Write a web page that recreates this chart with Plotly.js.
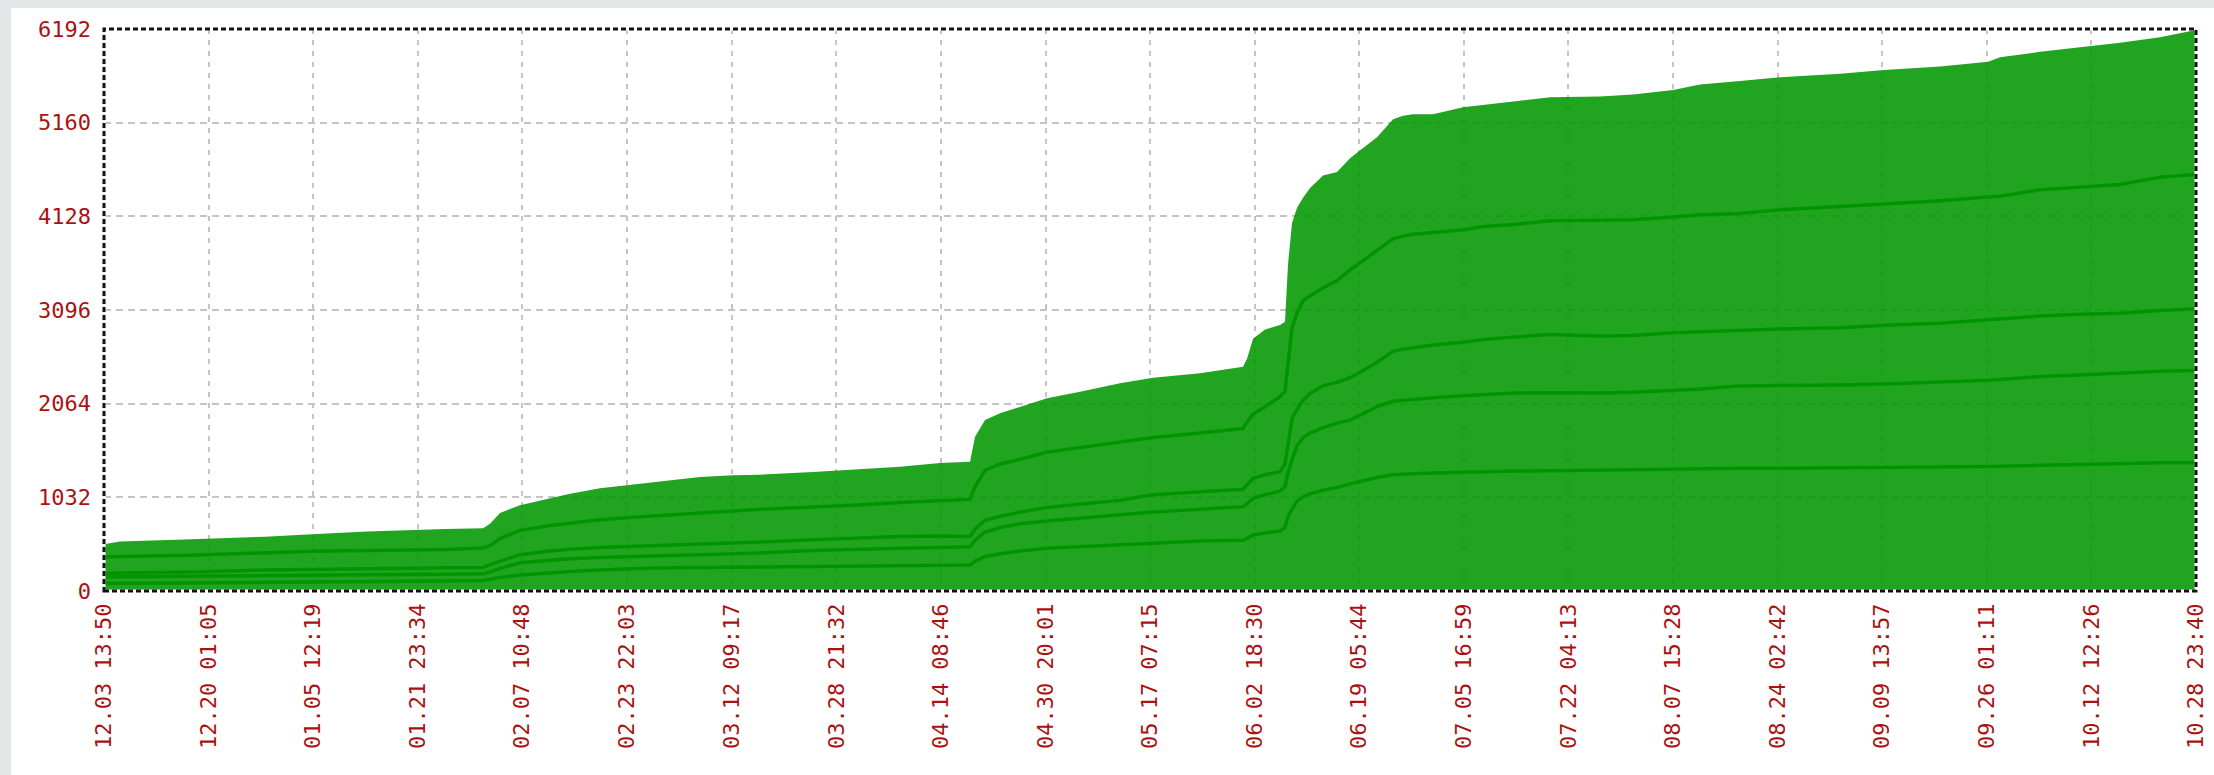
<!DOCTYPE html>
<html>
<head>
<meta charset="utf-8">
<script src="https://cdn.plot.ly/plotly-3.0.1.min.js"></script>
<style>
  html, body { margin: 0; padding: 0; }
  body { width: 2214px; height: 775px; background: #e3e7e8; position: relative; overflow: hidden; }
  #card { position: absolute; left: 11px; top: 8px; right: 0; bottom: 0; background: #ffffff; }
  #chart { position: absolute; left: 0; top: 0; width: 2214px; height: 775px; }
</style>
</head>
<body>
<div id="card"></div>
<div id="chart"></div>
<script>
// ---- tick labels (x) ----
const tickLabels = ["12.03 13:50","12.20 01:05","01.05 12:19","01.21 23:34","02.07 10:48","02.23 22:03",
  "03.12 09:17","03.28 21:32","04.14 08:46","04.30 20:01","05.17 07:15","06.02 18:30","06.19 05:44",
  "07.05 16:59","07.22 04:13","08.07 15:28","08.24 02:42","09.09 13:57","09.26 01:11","10.12 12:26","10.28 23:40"];
const tickDates = ["2012-12-03 13:50","2012-12-20 01:05","2013-01-05 12:19","2013-01-21 23:34","2013-02-07 10:48",
  "2013-02-23 22:03","2013-03-12 09:17","2013-03-28 21:32","2013-04-14 08:46","2013-04-30 20:01","2013-05-17 07:15",
  "2013-06-02 18:30","2013-06-19 05:44","2013-07-05 16:59","2013-07-22 04:13","2013-08-07 15:28","2013-08-24 02:42",
  "2013-09-09 13:57","2013-09-26 01:11","2013-10-12 12:26","2013-10-28 23:40"];
// ---- y ticks ----
const yTicks = [0, 1032, 2064, 3096, 4128, 5160, 6192];

// ---- time stamps of samples ----
const times = ["2012-12-03 13:50","2012-12-06 02:20","2012-12-17 10:25","2012-12-28 22:20","2013-01-05 07:50",
  "2013-01-13 23:45","2013-01-26 06:30","2013-02-01 06:10","2013-02-02 08:40","2013-02-03 22:25",
  "2013-02-07 01:55","2013-02-11 19:20","2013-02-14 22:55","2013-02-19 16:20","2013-02-24 09:45",
  "2013-03-02 16:50","2013-03-07 10:15","2013-03-12 14:55","2013-03-16 21:00","2013-03-25 05:20",
  "2013-03-29 07:30","2013-03-31 08:40","2013-04-07 22:00","2013-04-14 05:15","2013-04-18 22:40",
  "2013-04-19 17:30","2013-04-21 07:20","2013-04-23 16:00","2013-04-26 19:30","2013-05-01 01:40",
  "2013-05-06 06:20","2013-05-12 13:30","2013-05-17 18:15","2013-05-25 03:50","2013-05-31 22:20",
  "2013-06-01 13:25","2013-06-02 12:10","2013-06-04 09:30","2013-06-06 18:10","2013-06-07 13:00",
  "2013-06-08 00:20","2013-06-08 15:30","2013-06-09 10:25","2013-06-10 09:10","2013-06-11 11:30",
  "2013-06-13 12:40","2013-06-15 17:40","2013-06-17 18:45","2013-06-19 19:50","2013-06-22 00:45",
  "2013-06-24 13:15","2013-06-26 03:00","2013-06-27 16:50","2013-06-30 20:25","2013-07-05 13:50",
  "2013-07-08 17:20","2013-07-14 01:50","2013-07-19 06:30","2013-07-27 03:30","2013-08-01 08:15",
  "2013-08-07 15:25","2013-08-11 21:25","2013-08-18 04:35","2013-08-24 11:45","2013-09-02 22:30",
  "2013-09-09 20:50","2013-09-18 16:25","2013-09-26 05:50","2013-09-28 03:15","2013-10-04 10:20",
  "2013-10-10 17:30","2013-10-17 00:45","2013-10-23 07:50","2013-10-28 23:40"];

// ---- series values ----
const totalValues = [516,545,569,598,626,655,683,690,740,860,
  946,1025,1071,1132,1168,1221,1257,1275,1282,1311,
  1330,1339,1370,1410,1425,1700,1884,1958,2031,2123,
  2196,2288,2350,2399,2472,2560,2780,2880,2930,2967,
  3600,4055,4222,4334,4440,4578,4616,4767,4880,5000,
  5198,5235,5254,5254,5329,5355,5404,5441,5449,5471,
  5520,5580,5620,5660,5700,5740,5780,5830,5880,5940,
  5990,6040,6100,6180];
const line4Values = [374,380,395,420,438,446,456,473,500,578,
  668,721,750,785,811,840,860,882,900,925,
  936,945,975,995,1010,1150,1330,1400,1450,1530,
  1580,1640,1690,1740,1790,1860,1950,2030,2140,2200,
  2480,2900,3060,3200,3250,3340,3420,3537,3640,3750,
  3880,3910,3930,3950,3980,4015,4040,4079,4085,4090,
  4120,4145,4160,4200,4235,4260,4300,4340,4350,4420,
  4450,4480,4560,4590];
const line3Values = [196,198,210,231,240,245,255,260,290,330,
  400,440,460,478,489,505,515,525,540,565,
  578,585,600,605,600,680,780,822,870,920,
  960,1000,1060,1090,1120,1170,1242,1280,1315,1400,
  1600,1900,2000,2100,2178,2260,2300,2350,2430,2520,
  2640,2665,2680,2710,2740,2770,2800,2827,2810,2815,
  2845,2855,2870,2888,2900,2928,2950,2989,2995,3030,
  3049,3060,3090,3110];
const line2Values = [153,155,160,171,175,180,185,189,210,250,
  311,340,355,370,382,392,400,407,420,445,
  454,460,471,480,488,560,650,700,740,770,
  800,840,870,900,929,960,1021,1060,1100,1150,
  1300,1450,1600,1690,1740,1800,1850,1884,1960,2031,
  2090,2100,2110,2130,2150,2165,2181,2185,2181,2190,
  2210,2225,2260,2262,2270,2282,2300,2322,2330,2363,
  2380,2403,2420,2430];
const line1Values = [82,83,90,100,100,105,110,117,130,150,
  176,200,215,230,245,255,258,262,265,270,
  272,275,275,280,286,330,380,410,440,470,
  490,505,525,550,560,580,617,640,660,700,
  820,900,990,1039,1070,1110,1140,1180,1215,1250,
  1280,1290,1292,1300,1310,1315,1321,1325,1333,1340,
  1350,1353,1353,1353,1355,1360,1365,1373,1378,1385,
  1393,1405,1414,1414];

const FILL = 'rgba(0,152,0,0.87)';
const LINE = '#009500';
const RED = '#aa1212';
const FONT = 'DejaVu Sans Mono';

const traces = [
  { x: times, y: totalValues, type: 'scatter', mode: 'lines', fill: 'tozeroy',
    fillcolor: FILL, line: { width: 0, color: FILL }, hoverinfo: 'skip' }
];
[line4Values, line3Values, line2Values, line1Values].forEach(v => {
  traces.push({ x: times, y: v, type: 'scatter', mode: 'lines',
    line: { width: 3.5, color: LINE }, hoverinfo: 'skip' });
});

const layout = {
  width: 2214, height: 775,
  margin: { l: 104, r: 18, t: 29, b: 184, pad: 0 },
  paper_bgcolor: 'rgba(0,0,0,0)',
  plot_bgcolor: 'rgba(0,0,0,0)',
  showlegend: false,
  xaxis: {
    type: 'date',
    range: [tickDates[0], tickDates[tickDates.length - 1]],
    tickmode: 'array', tickvals: tickDates, ticktext: tickLabels,
    tickangle: -90,
    tickfont: { family: FONT, size: 22, color: RED },
    ticks: '', ticklabelstandoff: 7,
    showgrid: true, gridcolor: '#c4c4c4', gridwidth: 2, griddash: '5px,6px',
    zeroline: false, showline: false, automargin: false, fixedrange: true
  },
  yaxis: {
    range: [0, 6192],
    tickmode: 'array', tickvals: yTicks, ticktext: yTicks.map(String),
    tickfont: { family: FONT, size: 22, color: RED },
    ticks: '', ticklabelstandoff: 12,
    showgrid: true, gridcolor: '#c4c4c4', gridwidth: 2, griddash: '7px,5px',
    zeroline: false, showline: false, automargin: false, fixedrange: true
  },
  shapes: [
    { type: 'rect', xref: 'paper', yref: 'paper', x0: 0, x1: 1, y0: 0, y1: 1,
      line: { color: '#ffffff', width: 3 }, layer: 'above' },
    { type: 'rect', xref: 'paper', yref: 'paper', x0: 0, x1: 1, y0: 0, y1: 1,
      line: { color: '#111111', width: 3, dash: '5px,3px' }, layer: 'above' }
  ]
};

Plotly.newPlot('chart', traces, layout, { staticPlot: true, displayModeBar: false });
</script>
</body>
</html>
